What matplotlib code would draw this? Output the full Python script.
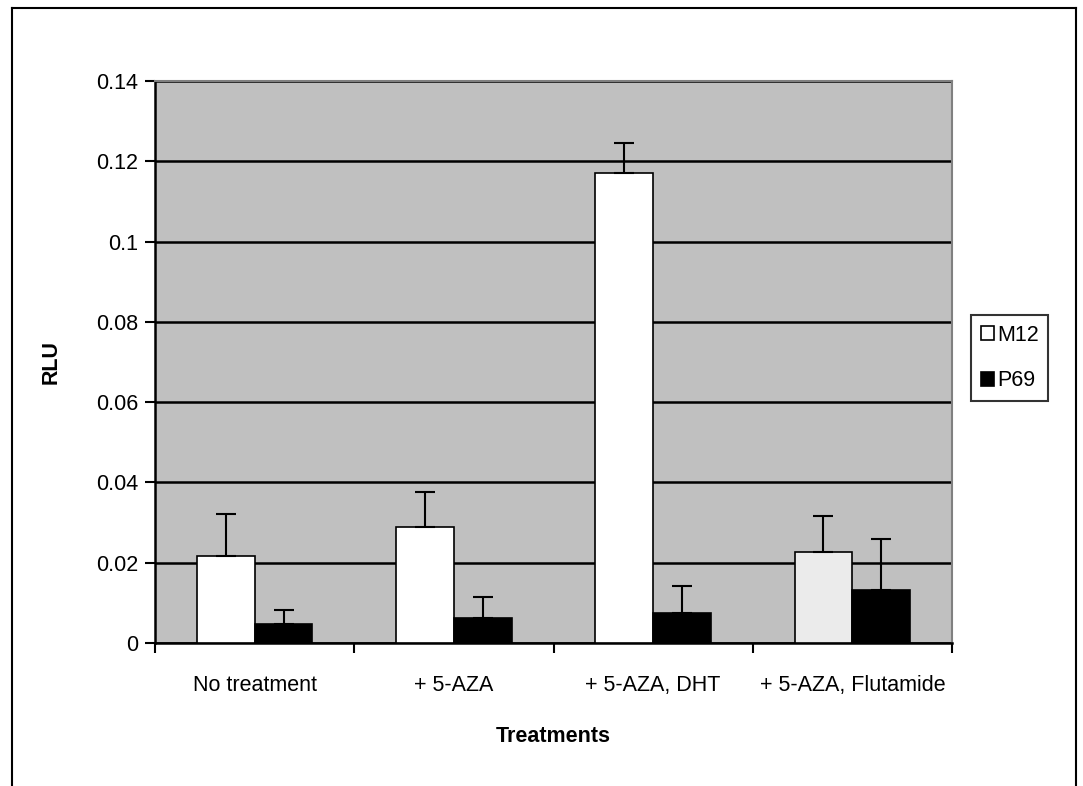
import matplotlib
matplotlib.use("Agg")
import matplotlib.pyplot as plt
import numpy as np
from matplotlib.lines import Line2D
from matplotlib.patches import Patch

categories = ["No treatment", "+ 5-AZA", "+ 5-AZA, DHT", "+ 5-AZA, Flutamide"]
m12 = [0.0217, 0.0290, 0.1172, 0.0226]
m12_err = [0.0104, 0.0085, 0.0073, 0.0090]
p69 = [0.0047, 0.0063, 0.0074, 0.0132]
p69_err = [0.0035, 0.0052, 0.0068, 0.0127]
m12_colors = ["white", "white", "white", "#ebebeb"]
yticks = [0, 0.02, 0.04, 0.06, 0.08, 0.1, 0.12, 0.14]
ytick_labels = ["0", "0.02", "0.04", "0.06", "0.08", "0.1", "0.12", "0.14"]

plt.rcParams['font.family'] = ['Liberation Sans', 'DejaVu Sans']
fs = 15.5

W, H = 1083, 786
fig = plt.figure(figsize=(W / 100, H / 100), dpi=100)
ax = fig.add_axes([155 / W, 1 - 643 / H, (952 - 155) / W, (643 - 81) / H])
ax.set_facecolor("#c0c0c0")

x = np.arange(len(categories))
bw = 0.29
ekw = dict(elinewidth=1.5, capthick=1.5, ecolor="black")
ax.bar(x - bw / 2, m12, bw, color=m12_colors, edgecolor="black", linewidth=1.2,
       yerr=[np.zeros(len(m12)), m12_err], capsize=7, error_kw=ekw, zorder=3)
ax.bar(x + bw / 2, p69, bw, color="black", edgecolor="black", linewidth=1.2,
       yerr=[np.zeros(len(p69)), p69_err], capsize=7, error_kw=ekw, zorder=3)

ax.set_xlim(-0.5, len(categories) - 0.5)
ax.set_ylim(0, 0.14)
ax.set_yticks(yticks)
ax.set_yticklabels(ytick_labels, fontsize=fs)
ax.set_xticks(np.arange(len(categories) + 1) - 0.5)
ax.set_xticklabels([])
ax.set_xticks(x, minor=True)
ax.set_xticklabels(categories, minor=True, fontsize=fs)
ax.tick_params(axis="x", which="minor", length=0, pad=23)
ax.tick_params(axis="x", which="major", length=7, width=1.5, direction="out")
ax.tick_params(axis="y", length=7, width=1.5, direction="out", pad=5)

ax.yaxis.grid(True, color="black", linewidth=1.8, zorder=1)
ax.set_axisbelow(True)
for s in ["left", "bottom"]:
    ax.spines[s].set_linewidth(1.8)
    ax.spines[s].set_color("black")
for s in ["top", "right"]:
    ax.spines[s].set_linewidth(1.5)
    ax.spines[s].set_color("#808080")

ax.set_ylabel("RLU", fontsize=fs, fontweight="bold", labelpad=25)
ax.set_xlabel("Treatments", fontsize=fs, fontweight="bold", labelpad=22)

handles = [Patch(facecolor="white", edgecolor="black", linewidth=1.2, label="M12"),
           Patch(facecolor="black", edgecolor="black", linewidth=1.2, label="P69")]
leg = fig.legend(handles=handles, loc="upper left",
                 bbox_to_anchor=(971 / W, 1 - 315 / H), fontsize=fs,
                 frameon=True, fancybox=False, edgecolor="black",
                 handlelength=0.6, handleheight=0.6, handletextpad=0.15,
                 labelspacing=1.15, borderpad=0.45, borderaxespad=0)
leg.get_frame().set_linewidth(1.5)

# outer chart-area border
bx0, bx1, by0 = 12 / W, 1076 / W, 1 - 8 / H
for xs, ys in [([bx0, bx0], [0, by0]), ([bx0, bx1], [by0, by0]), ([bx1, bx1], [by0, 0])]:
    fig.add_artist(Line2D(xs, ys, transform=fig.transFigure, color="black", linewidth=1.5))

fig.savefig("out.png", dpi=100)
